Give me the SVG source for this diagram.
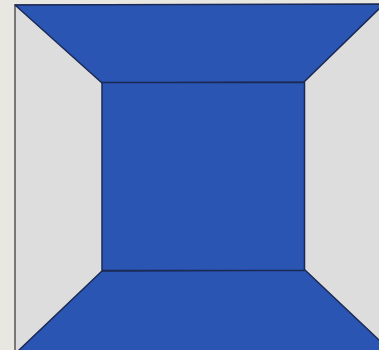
<svg xmlns="http://www.w3.org/2000/svg" width="379" height="350" viewBox="0 0 379 350">
<defs>
<style>
.blue{fill:#2b55b3;stroke:#1a2a55;stroke-width:1.5;stroke-linejoin:round}
.light{fill:#dedddd;stroke:#333;stroke-width:1.2}
</style>
</defs>
<rect x="0" y="0" width="379" height="350" fill="#e9e7e2"/>
<g id="block">
<rect id="left" class="light" x="15" y="5" width="368" height="350"/>
<polygon id="top" class="blue" points="15,5 383,4 383,5 304,82 102,83"/>
<polygon id="bottom" class="blue" points="102,271 305,270 379,340 383,343 383,352 17,352"/>
<rect id="center" class="blue" x="102" y="82.5" width="202.5" height="188"/>
</g>
</svg>
